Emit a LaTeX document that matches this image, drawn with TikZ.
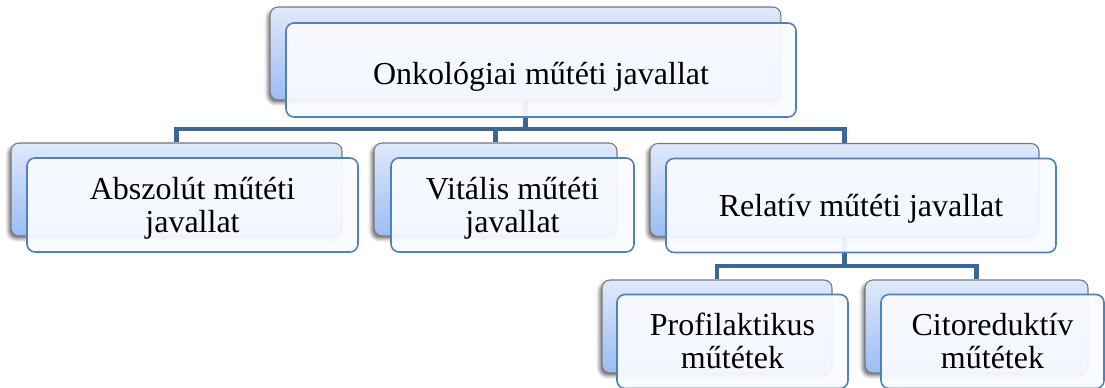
\documentclass[tikz,border=0pt]{standalone}
\usepackage{fontspec}
\setmainfont{Liberation Serif}
\usetikzlibrary{shadows.blur,backgrounds}
\definecolor{connblue}{RGB}{60,102,153}
\definecolor{frontborder}{RGB}{79,129,189}
\definecolor{backtop}{RGB}{224,233,250}
\definecolor{backbot}{RGB}{155,188,245}
\definecolor{backborder}{RGB}{120,120,120}
\definecolor{frontfill}{RGB}{250,251,255}
\tikzset{
  backbox/.style={draw=backborder, line width=0.8pt, rounded corners=6pt,
    top color=backtop, bottom color=backbot, minimum height=69.75pt, inner sep=0pt,
    blur shadow={shadow xshift=-1.8pt, shadow yshift=-2.2pt, shadow opacity=55, shadow blur radius=2.5pt}},
  frontbox/.style={draw=frontborder, line width=1.2pt, rounded corners=6pt,
    fill=frontfill, fill opacity=0.93, draw opacity=1, minimum height=70.5pt, inner sep=0pt},
  txt/.style={anchor=base, inner sep=0pt, font=\fontsize{24}{25}\selectfont, text=black},
  connector/.style={draw=connblue, line width=3.2pt},
}
\begin{document}
\begin{tikzpicture}[x=0.75pt,y=-0.75pt]
\useasboundingbox (0,0) rectangle (1105,387);
\node[backbox, minimum width=383pt] (Tb) at (525.5,53.5) {};
\node[frontbox, minimum width=382.5pt] (Tf) at (541,70) {};
\node[txt] (Tt) at (541,84) {Onkológiai műtéti javallat};

\node[backbox, minimum width=248.25pt] (Ab) at (176.5,189.5) {};
\node[frontbox, minimum width=248.25pt] (Af) at (192.5,205) {};
\node[txt] (At1) at (192.5,199) {Abszolút műtéti};
\node[txt] (At2) at (192.5,232) {javallat};

\node[backbox, minimum width=182.25pt] (Vb) at (495.5,189.5) {};
\node[frontbox, minimum width=182.25pt] (Vf) at (512.5,205) {};
\node[txt] (Vt1) at (512.5,199) {Vitális műtéti};
\node[txt] (Vt2) at (512.5,232) {javallat};

\node[backbox, minimum width=291.75pt] (Rb) at (844.5,190) {};
\node[frontbox, minimum width=292.5pt] (Rf) at (861,205.5) {};
\node[txt] (Rt) at (861,216) {Relatív műtéti javallat};

\node[backbox, minimum width=172.5pt] (Pb) at (717,326.5) {};
\node[frontbox, minimum width=173.25pt] (Pf) at (732.5,341.5) {};
\node[txt] (Pt1) at (732.5,335) {Profilaktikus};
\node[txt] (Pt2) at (732.5,368) {műtétek};

\node[backbox, minimum width=167.25pt] (Cb) at (976.5,326.5) {};
\node[frontbox, minimum width=167.25pt] (Cf) at (992.5,341.5) {};
\node[txt] (Ct1) at (992.5,335) {Citoreduktív};
\node[txt] (Ct2) at (992.5,368) {műtétek};

\coordinate (j1) at (525.5,129);
\coordinate (j2) at (844.5,266);
\begin{scope}[on background layer]
\draw[connector] (Tb.south) -- (j1);
\draw[connector] (Ab.north) |- (j1) -| (Rb.north);
\draw[connector] (Vb.north) -- (Vb.north |- j1);
\draw[connector] (Rb.south) -- (j2);
\draw[connector] (Pb.north) |- (j2) -| (Cb.north);
\end{scope}
\end{tikzpicture}
\end{document}
